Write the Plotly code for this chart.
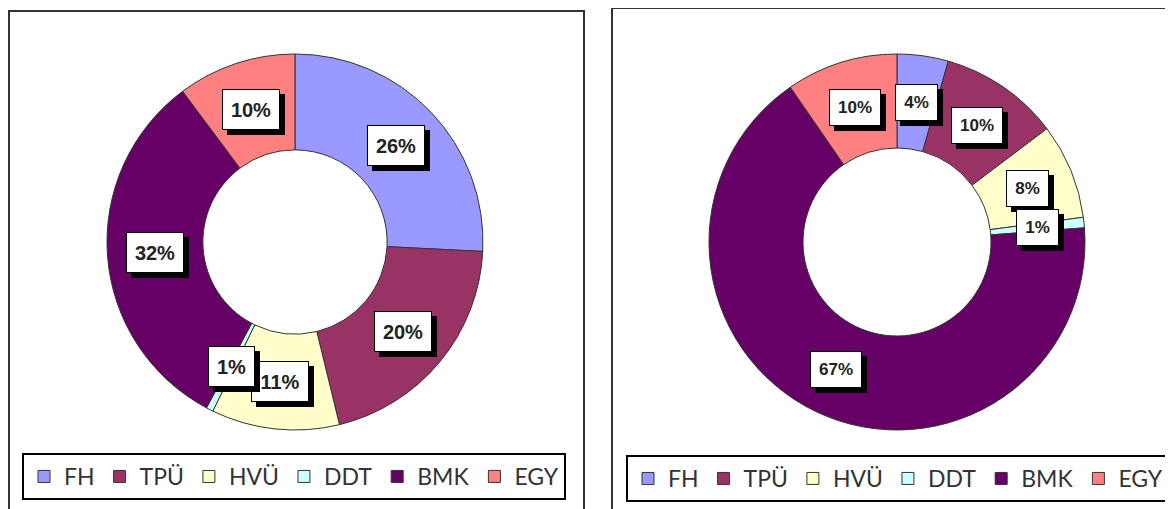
import math
import plotly.graph_objects as go

# ---------------- data ----------------
categories = ["FH", "TPÜ", "HVÜ", "DDT", "BMK", "EGY"]
left_values = [25.8, 20.4, 11.0, 0.6, 32.0, 10.2]
right_values = [4.4, 10.3, 8.2, 0.9, 66.6, 9.6]
slice_colors = ["#9999FF", "#993366", "#FFFFCC", "#CCFFFF", "#660066", "#FF8080"]

# ---------------- layout geometry (pixels, page coords) ----------------
OFF = 8                      # default page body margin
W, H = 1173 - OFF, 509 - OFF  # figure size
R_OUT = 188
LEFT_C = (295, 242)
RIGHT_C = (897, 242)
LEFT_HOLE = 0.49
RIGHT_HOLE = 0.50
LABEL_FONT = "Liberation Sans"


def fx(px):
    return (px - OFF) / W


def fy(py):
    return 1 - (py - OFF) / H


def domain(c):
    cx, cy = c
    return dict(x=[fx(cx - R_OUT), fx(cx + R_OUT)],
                y=[fy(cy + R_OUT), fy(cy - R_OUT)])


def label_annotations(values, c, hole, fsize, pad, shadow):
    cx, cy = c
    total = sum(values)
    r_lab = (R_OUT + R_OUT * hole) / 2
    cum = 0.0
    anns = []
    for v in values:
        mid = (cum + v / 2) / total * 2 * math.pi
        cum += v
        px = cx + r_lab * math.sin(mid)
        py = cy - r_lab * math.cos(mid)
        pct = round(v / total * 100)
        txt = f"{pct:.0f}%"
        ndig = len(str(pct))
        box_w = round(fsize * (0.556 * ndig + 0.889)) + 2
        box_h = round(fsize * 1.25)
        common = dict(xref="paper", yref="paper", x=fx(px), y=fy(py),
                      xanchor="center", yanchor="middle", showarrow=False,
                      width=box_w, height=box_h, align="center", valign="middle",
                      borderwidth=1, borderpad=pad)
        # drop shadow box
        anns.append(dict(common, text=" ", bgcolor="black", bordercolor="black",
                         xshift=shadow, yshift=-shadow))
        # white label box
        anns.append(dict(common, text=txt, bgcolor="white", bordercolor="black",
                         font=dict(family=LABEL_FONT, size=fsize, weight="bold",
                                   color="#222222")))
    return anns


# second chart's labels get an invisible suffix so that its own legend lists them too
right_labels = [c + "\u200b" for c in categories]

fig = go.Figure()
fig.add_trace(go.Pie(labels=categories, values=left_values, hole=LEFT_HOLE,
                     sort=False, direction="clockwise", rotation=0,
                     marker=dict(colors=slice_colors, line=dict(color="#333333", width=1)),
                     textinfo="none", hoverinfo="label+percent",
                     domain=domain(LEFT_C), legend="legend"))
fig.add_trace(go.Pie(labels=right_labels, values=right_values, hole=RIGHT_HOLE,
                     sort=False, direction="clockwise", rotation=0,
                     marker=dict(colors=slice_colors, line=dict(color="#333333", width=1)),
                     textinfo="none", hoverinfo="label+percent",
                     domain=domain(RIGHT_C), legend="legend2"))

annotations = (label_annotations(left_values, LEFT_C, LEFT_HOLE, 20, 7, 5)
               + label_annotations(right_values, RIGHT_C, RIGHT_HOLE, 17, 7, 5))

legend_common = dict(orientation="h", xanchor="left", yanchor="top",
                     bordercolor="black", borderwidth=2, bgcolor="white",
                     traceorder="normal",
                     font=dict(family="Lato", size=23, color="#333333"))

fig.update_layout(
    width=W, height=H,
    margin=dict(l=0, r=0, t=0, b=0),
    paper_bgcolor="white", plot_bgcolor="white",
    showlegend=True,
    legend=dict(legend_common, x=fx(22), y=fy(453)),
    legend2=dict(legend_common, x=fx(626), y=fy(455)),
    annotations=annotations,
    shapes=[
        dict(type="rect", xref="paper", yref="paper", x0=fx(9), x1=fx(584),
             y0=-0.05, y1=fy(11), line=dict(color="#333333", width=2), layer="below"),
        dict(type="rect", xref="paper", yref="paper", x0=fx(612), x1=1.05,
             y0=-0.05, y1=fy(8), line=dict(color="#333333", width=2), layer="below"),
    ],
)

fig.write_html("out.html")
